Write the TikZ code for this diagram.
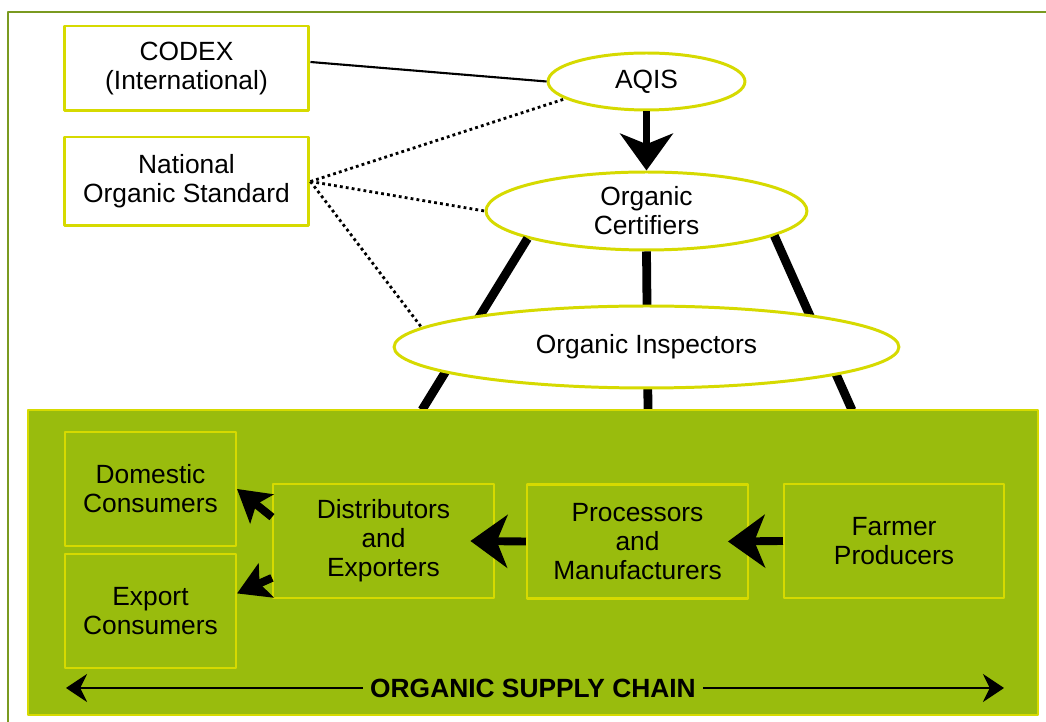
\documentclass[tikz,border=0pt]{standalone}
\usepackage{fontspec}
\setmainfont{Liberation Sans}
\usetikzlibrary{arrows.meta,shapes.geometric}
\definecolor{chainyellow}{RGB}{214,218,0}
\definecolor{chaingreen}{RGB}{153,188,13}
\definecolor{frameolive}{RGB}{122,154,32}
\begin{document}
\begin{tikzpicture}[x=0.02cm, y=-0.02cm, line join=round,
		font=\fontsize{15}{16.5}\selectfont,
		topbox/.style={draw=chainyellow, line width=1.7pt, fill=white, align=center, minimum width=4.9cm, minimum height=1.7cm},
		oval/.style={ellipse, draw=chainyellow, line width=1.7pt, fill=white, align=center, inner sep=0pt},
		chainbox/.style={draw=chainyellow, line width=1.2pt, align=center, minimum height=2.28cm},
		flow/.style={line width=4.5pt, -{Stealth[length=21pt, width=30pt, inset=6pt]}},
		split/.style={line width=4.5pt, -{Stealth[length=18pt, width=21pt, inset=4pt]}},
		link/.style={line width=5pt},
		dotlink/.style={line width=1.6pt, dash pattern=on 1.6pt off 1.8pt}]
				\useasboundingbox (0,0) rectangle (1046,722);
				\draw[frameolive, line width=1.2pt] (8,722) -- (8,12) -- (1046,12);
				\node[topbox] (codex) at (186.5,68.5) {CODEX\\(International)};
				\node[topbox, minimum height=1.78cm] (nos) at (186.5,181.5) {National\\Organic Standard};
				\node[oval, minimum width=3.94cm, minimum height=1.14cm] (aqis) at (646.5,81.5) {AQIS};
				\node[oval, minimum width=6.42cm, minimum height=1.56cm] (cert) at (646.5,211) {Organic\\Certifiers};
				\coordinate (topL) at (422,410);
				\coordinate (topM) at (648,410);
				\coordinate (topR) at (852,410);
				\draw[link] (cert.193) -- (topL) (cert.south) -- (topM) (cert.349) -- (topR);
				\draw[draw=chainyellow, fill=chaingreen, line width=1.7pt] (28,410) rectangle (1038,715);
				\node[oval, minimum width=10.1cm, minimum height=1.64cm] (insp) at (646.5,347) {Organic Inspectors};
				\node[chainbox, minimum width=3.42cm] (domestic) at (150.5,489) {Domestic\\Consumers};
				\node[chainbox, minimum width=3.42cm] (export) at (150.5,611) {Export\\Consumers};
				\node[chainbox, minimum width=4.42cm] (distrib) at (383.5,541) {Distributors\\and\\Exporters};
				\node[chainbox, minimum width=4.42cm] (proc) at (637.5,541.5) {Processors\\and\\Manufacturers};
				\node[chainbox, minimum width=4.4cm] (farmer) at (894,541) {Farmer\\Producers};
				\draw[flow] (aqis.south) -- (cert.north);
				\draw[flow] (farmer.west) -- ([xshift=-12pt]proc.east);
				\draw[flow] (proc.west) -- ([xshift=-14pt]distrib.east);
				\draw[split] ([yshift=13.6pt]distrib.west) -- (domestic.east);
				\draw[split] ([yshift=-21pt]distrib.west) -- ([yshift=10pt]export.east);
				\coordinate (chainW) at (66,688);
				\coordinate (chainE) at (1004,688);
				\draw[line width=1.3pt, {Stealth[length=12pt, width=16pt]}-{Stealth[length=12pt, width=16pt]}] (chainW) -- (chainE);
				\node[fill=chaingreen, font=\fontsize{15}{16.5}\selectfont\bfseries, inner xsep=4pt] (chainlabel) at (533,688) {ORGANIC SUPPLY CHAIN};
				\draw[line width=1.2pt] ([yshift=3.7pt]codex.east) -- (aqis.west);
				\draw[dotlink] (nos.east) -- (aqis.192) (nos.east) -- (cert.west) (nos.east) -- (insp.175);
			\end{tikzpicture}
\end{document}
